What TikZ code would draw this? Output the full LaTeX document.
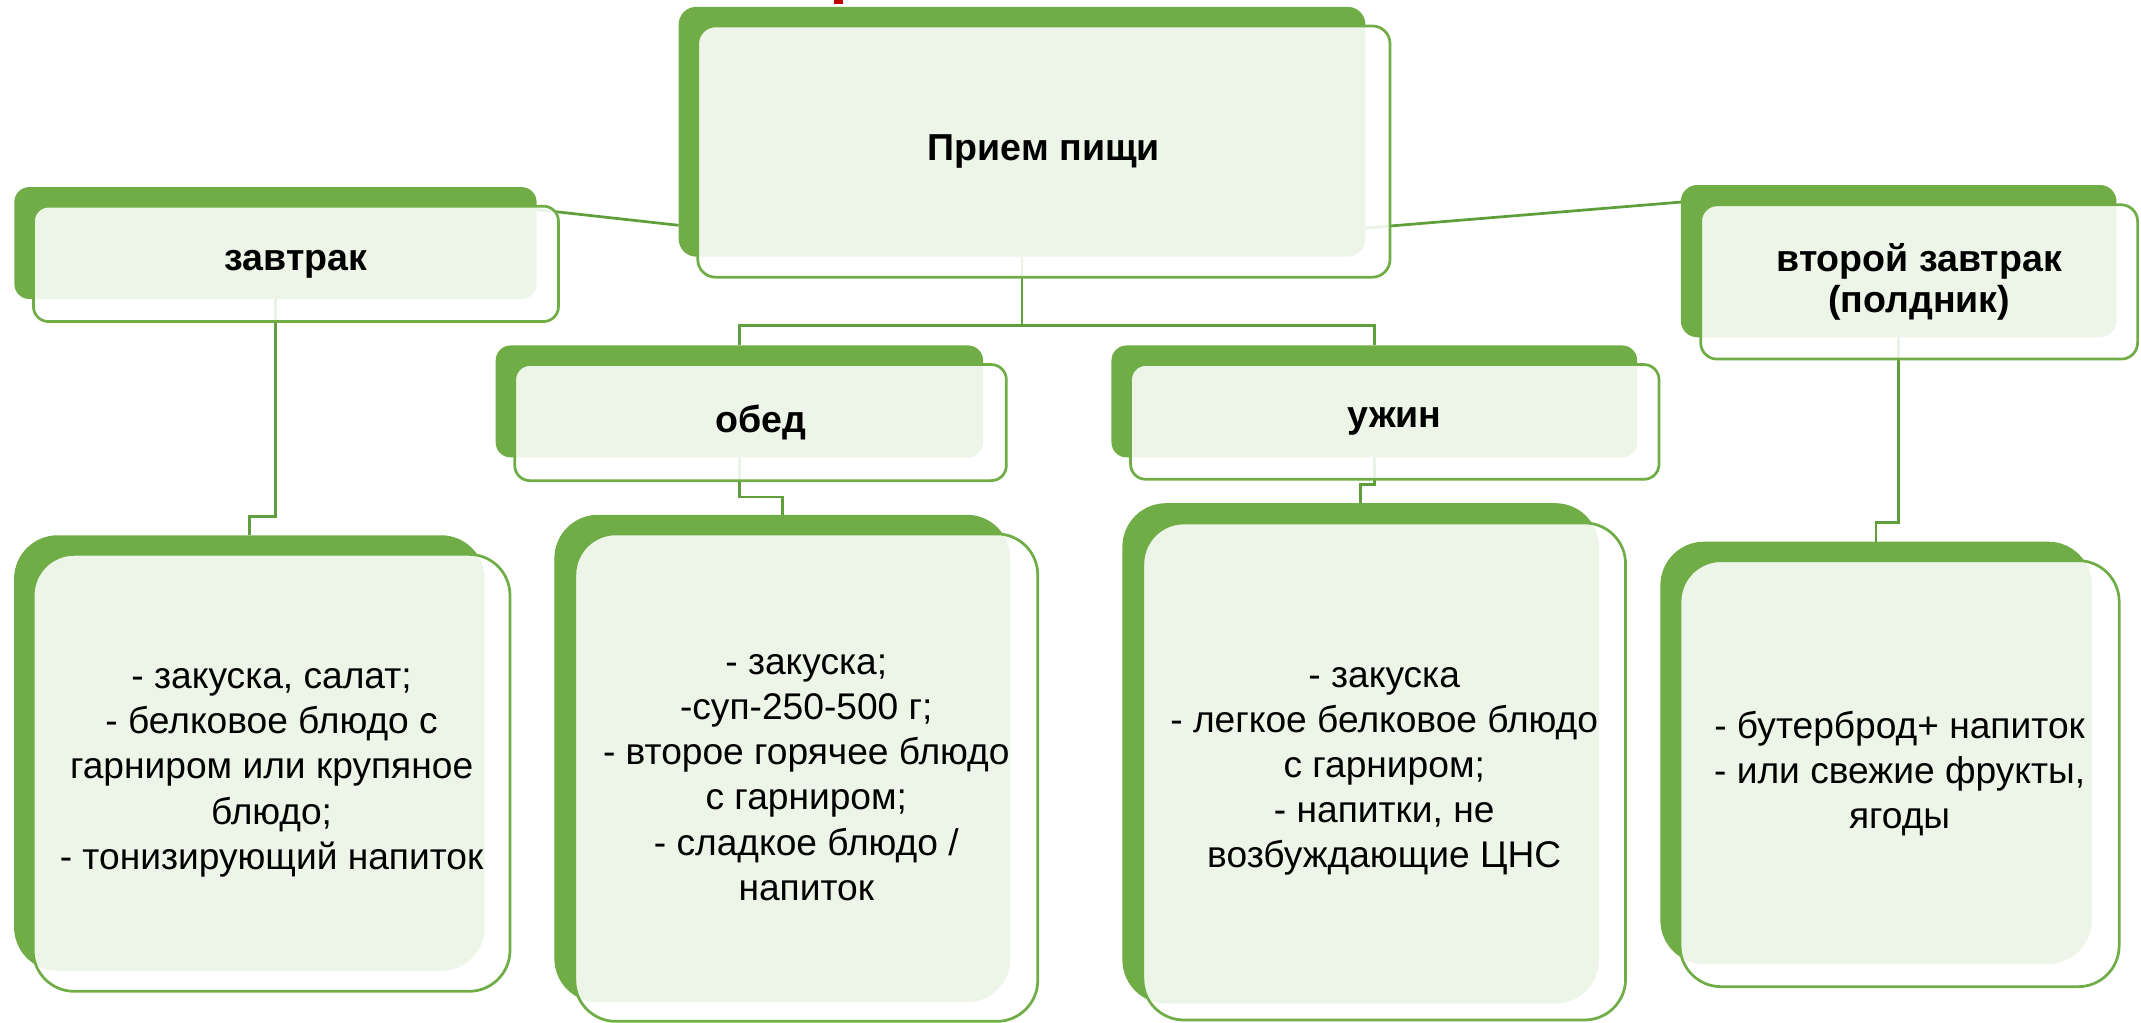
\documentclass[tikz,border=0pt]{standalone}
\usepackage{fontspec}
\setmainfont{Liberation Sans}
\usetikzlibrary{calc}
\definecolor{gr}{RGB}{112,173,71}
\definecolor{ln}{RGB}{96,158,60}
\definecolor{rd}{RGB}{192,0,0}
\begin{document}
\begin{tikzpicture}[x=1pt,y=-1pt,
  gbox/.style={draw=none, fill=gr, inner sep=0pt, outer sep=0pt, rounded corners=#1},
  obox/.style={draw=gr, line width=2pt, fill=white, fill opacity=0.88, text opacity=1,
               rounded corners=#1, inner sep=0pt, outer sep=0pt, align=center},
  ttl/.style={font=\bfseries\fontsize{27.5}{30.5}\selectfont},
  body/.style={font=\fontsize{27.2}{33}\selectfont},
  conn/.style={draw=ln, line width=2pt}]
\useasboundingbox (0,0) rectangle (1568,749);

% red fragment at the top
\fill[rd] (610.8,0) rectangle (617.4,2.9);

% green back boxes
\node[gbox=13pt, minimum width=503pt, minimum height=183pt] (gT) at (748.5,96.5) {};
\node[gbox=11pt, minimum width=382.5pt, minimum height=82pt] (gZ) at (201.75,178) {};
\node[gbox=11pt, minimum width=357pt, minimum height=82pt] (gO) at (541.5,294) {};
\node[gbox=11pt, minimum width=385pt, minimum height=82pt] (gU) at (1006.5,294) {};
\node[gbox=12pt, minimum width=319pt, minimum height=111.5pt] (gV) at (1390.5,191.25) {};
\node[gbox=32pt, minimum width=344.7pt, minimum height=319pt] (g1) at (182.65,551.5) {};
\node[gbox=32pt, minimum width=334pt, minimum height=357pt] (g2) at (573,555.5) {};
\node[gbox=32pt, minimum width=349pt, minimum height=366.5pt] (g3) at (996.5,551.75) {};
\node[gbox=32pt, minimum width=316pt, minimum height=309.3pt] (g4) at (1374,551.35) {};

% connectors
\coordinate (mT) at (0,238.5);
\coordinate (m1) at (0,378.5);
\coordinate (m2) at (0,364);
\coordinate (m3) at (0,354.6);
\coordinate (m4) at (0,382.5);
\draw[conn] ($(gT.south west)+(0,-23)$) -- ($(gZ.north east)+(0,16.5)$);
\draw[conn] ($(gT.south east)+(0,-21)$) -- ($(gV.north west)+(0,12.5)$);
\draw[conn] (gT.south) -- (gT.south |- mT);
\draw[conn] (gO.north) |- (mT -| gU.north) -- (gU.north);
\draw[conn] (gZ.south) -- (gZ.south |- m1) -| (g1.north);
\draw[conn] (gO.south) -- (gO.south |- m2) -| (g2.north);
\draw[conn] (gU.south) -- (gU.south |- m3) -| (g3.north);
\draw[conn] (gV.south) -- (gV.south |- m4) -| (g4.north);

% front outlined boxes with text
\node[obox=13pt, ttl, minimum width=507pt, minimum height=184pt] (oT) at (764.5,111) {Прием пищи};
\node[obox=11pt, ttl, minimum width=384.5pt, minimum height=84.5pt] (oZ) at (216.75,193.25) {завтрак};
\node[obox=11pt, ttl, minimum width=360pt, minimum height=85pt] (oO) at (557,309.5) {обед};
\node[obox=11pt, ttl, minimum width=387pt, minimum height=84pt] (oU) at (1021.5,309) {ужин};
\node[obox=12pt, ttl, minimum width=320pt, minimum height=113pt] (oV) at (1405.5,206.5) {второй завтрак\\(полдник)};
\node[obox=30pt, body, minimum width=349.2pt, minimum height=320pt] (o1) at (198.9,566) {- закуска, салат;\\- белковое блюдо с\\гарниром или крупяное\\блюдо;\\- тонизирующий напиток};
\node[obox=30pt, body, minimum width=339pt, minimum height=357pt] (o2) at (590.5,569.5) {- закуска;\\-суп-250-500 г;\\- второе горячее блюдо\\с гарниром;\\- сладкое блюдо /\\напиток};
\node[obox=30pt, body, minimum width=353.5pt, minimum height=364pt] (o3) at (1013.75,565) {- закуска\\- легкое белковое блюдо\\с гарниром;\\- напитки, не\\возбуждающие ЦНС};
\node[obox=30pt, body, minimum width=321.6pt, minimum height=312pt] (o4) at (1391.2,566.6) {- бутерброд+ напиток\\- или свежие фрукты,\\ягоды};
\end{tikzpicture}
\end{document}
